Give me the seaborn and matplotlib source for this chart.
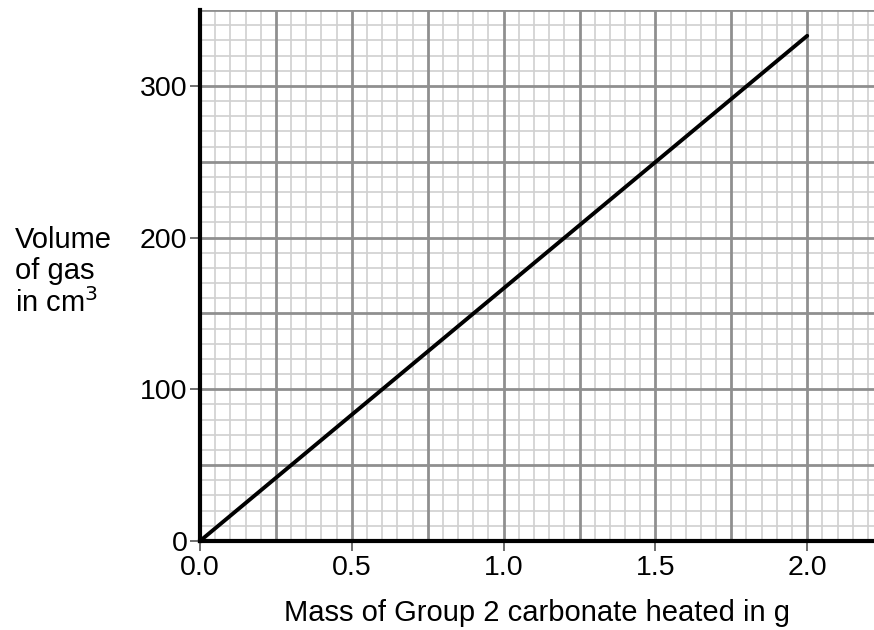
import matplotlib
matplotlib.use("Agg")
import matplotlib.pyplot as plt
import seaborn as sns
import numpy as np
import pandas as pd
from matplotlib.ticker import FixedLocator

mass_g = [0.0, 2.0]
volume_cm3 = [0, 333]
x_ticks = [0.0, 0.5, 1.0, 1.5, 2.0]
x_tick_labels = ["0.0", "0.5", "1.0", "1.5", "2.0"]
y_ticks = [0, 100, 200, 300]
y_tick_labels = ["0", "100", "200", "300"]

sns.set_theme(style="white")
plt.rcParams['font.family'] = ['Liberation Sans', 'DejaVu Sans']

fig = plt.figure(figsize=(8.74, 6.3), dpi=100)
ax = fig.add_axes([200/874, (630-541)/630, 1 - 200/874, (541-10)/630])

df = pd.DataFrame({"mass": mass_g, "volume": volume_cm3})

ax.set_xlim(0, 2.22)
ax.set_ylim(0, 350)

# grid lines
for xv in np.arange(0, 2.2501, 0.05):
    major = abs(xv / 0.25 - round(xv / 0.25)) < 1e-6
    ax.axvline(xv, color="#8f8f8f" if major else "#d0d0d0",
               lw=2.0 if major else 1.2, zorder=1 if major else 0.5)
for yv in np.arange(0, 350.01, 10):
    major = abs(yv / 50 - round(yv / 50)) < 1e-6
    ax.axhline(yv, color="#8f8f8f" if major else "#d0d0d0",
               lw=2.0 if major else 1.2, zorder=1 if major else 0.5)

sns.lineplot(data=df, x="mass", y="volume", ax=ax, color="black", lw=2.8, zorder=3)

ax.xaxis.set_major_locator(FixedLocator(x_ticks))
ax.set_xticklabels(x_tick_labels)
ax.yaxis.set_major_locator(FixedLocator(y_ticks))
ax.set_yticklabels(y_tick_labels)
ax.tick_params(axis="both", which="major", direction="out", length=7, width=1.2,
               color="#555555", labelsize=20.5, labelcolor="black",
               bottom=True, left=True)
ax.tick_params(axis="x", pad=3)
ax.tick_params(axis="y", pad=2)

for s in ["top", "right"]:
    ax.spines[s].set_visible(False)
for s in ["left", "bottom"]:
    ax.spines[s].set_color("black")
    ax.spines[s].set_linewidth(3)
    ax.spines[s].set_zorder(5)

ax.set_xlabel("Mass of Group 2 carbonate heated in g", fontsize=21, labelpad=13, color="black")
ax.set_ylabel("")
fig.text(15/874, 1 - 272/630, "Volume\nof gas\nin cm$^3$", fontsize=21, ha="left", va="center",
         linespacing=1.12, color="black")

fig.savefig("out.png", dpi=100)
